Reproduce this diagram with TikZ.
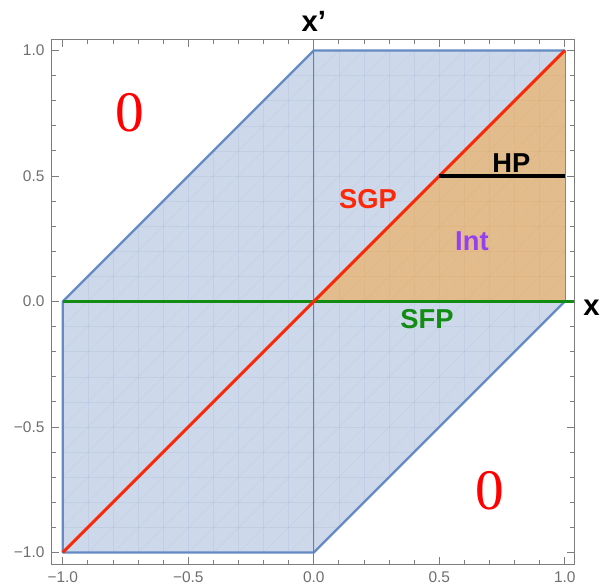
\documentclass[tikz,border=0pt]{standalone}
\usepackage{fontspec}
\setmainfont{Liberation Sans}
\newfontfamily\zeroserif{Liberation Serif}
\definecolor{regblue}{RGB}{205,217,234}
\definecolor{edgeblue}{RGB}{100,138,196}
\definecolor{intorange}{RGB}{226,188,140}
\definecolor{sgpred}{RGB}{252,40,8}
\definecolor{sfpgreen}{RGB}{18,140,18}
\definecolor{intpurple}{RGB}{150,64,240}
\definecolor{framegray}{RGB}{125,125,125}
\definecolor{ticklab}{RGB}{110,110,110}
\definecolor{meshcol}{RGB}{120,150,200}
\begin{document}
\begin{tikzpicture}[x=188.25pt,y=188.25pt,
  framestyle/.style={draw=framegray,line width=0.8pt},
  tickstyle/.style={draw=framegray,line width=0.7pt},
  ticklabel/.style={text=ticklab,font=\fontsize{11.6}{12}\selectfont,inner sep=0pt},
  bigzero/.style={text=red,font=\zeroserif\fontsize{43}{45}\selectfont,inner sep=0pt},
  curvelabel/.style={font=\bfseries\fontsize{20.5}{22}\selectfont,inner sep=0pt},
  axislabel/.style={font=\bfseries\fontsize{22}{24}\selectfont,inner sep=0pt,anchor=base}]
\useasboundingbox (-1.2502,-1.1375) rectangle (1.1602,1.2012);
% corner coordinates of the region
\coordinate (P1) at (-1,-1);
\coordinate (P2) at (-1,0);
\coordinate (P3) at (0,1);
\coordinate (P4) at (1,1);
\coordinate (P5) at (1,0);
\coordinate (P6) at (0,-1);
\coordinate (O) at (0,0);
\coordinate (H1) at (0.5,0.5);
\coordinate (H2) at (1,0.5);
\coordinate (GL) at (-1,0);
\coordinate (GR) at (1.038,0);
\coordinate (AB) at (0,-1.046);
\coordinate (AT) at (0,1.042);
% blue region
\fill[regblue] (P1) -- (P2) -- (P3) -- (P4) -- (P5) -- (P6) -- cycle;
\begin{scope}
\clip (P1) -- (P2) -- (P3) -- (P4) -- (P5) -- (P6) -- cycle;
\foreach \i in {-10,...,10}{
  \draw[meshcol,opacity=0.14,line width=0.4pt] (\i/10,-1.1) -- (\i/10,1.1);
  \draw[meshcol,opacity=0.14,line width=0.4pt] (-1.1,\i/10) -- (1.1,\i/10);
}
\foreach \i in {-20,...,20}{
  \draw[meshcol,opacity=0.11,line width=0.4pt] (\i/10-1.2,-1.2) -- (\i/10+1.2,1.2);
}
\end{scope}
\draw[edgeblue,line width=1.8pt,line join=round] (P1) -- (P2) -- (P3) -- (P4) -- (P5) -- (P6) -- cycle;
% orange interior
\fill[intorange] (O) -- (P4) -- (P5) -- cycle;
\begin{scope}
\clip (O) -- (P4) -- (P5) -- cycle;
\foreach \i in {0,...,10}{
  \draw[brown,opacity=0.08,line width=0.4pt] (\i/10,-0.1) -- (\i/10,1.1);
  \draw[brown,opacity=0.08,line width=0.4pt] (-0.1,\i/10) -- (1.1,\i/10);
  \draw[brown,opacity=0.07,line width=0.4pt] (\i/10,0) -- (\i/10+1,1);
}
\end{scope}
% frame
\draw[framestyle] (-1.044,-1.046) rectangle (1.038,1.042);
\foreach \i in {-10,...,10}{
  \draw[tickstyle] (\i/10,-1.046) -- ++(0,0.017);
  \draw[tickstyle] (\i/10,1.042) -- ++(0,-0.017);
  \draw[tickstyle] (-1.044,\i/10) -- ++(0.017,0);
  \draw[tickstyle] (1.038,\i/10) -- ++(-0.017,0);
}
\foreach \i in {-10,-5,0,5,10}{
  \draw[tickstyle] (\i/10,-1.046) -- ++(0,0.030);
  \draw[tickstyle] (\i/10,1.042) -- ++(0,-0.030);
  \draw[tickstyle] (-1.044,\i/10) -- ++(0.030,0);
  \draw[tickstyle] (1.038,\i/10) -- ++(-0.030,0);
}
% vertical axis
\draw[framegray,line width=0.9pt] (AB) -- (AT);
% tick labels
\node[ticklabel,anchor=east] (ly1) at (-1.072,1) {1.0};
\node[ticklabel,anchor=east] (ly2) at (-1.072,0.5) {0.5};
\node[ticklabel,anchor=east] (ly3) at (-1.072,0) {0.0};
\node[ticklabel,anchor=east] (ly4) at (-1.072,-0.5) {−0.5};
\node[ticklabel,anchor=east] (ly5) at (-1.072,-1) {−1.0};
\node[ticklabel] (lx1) at (-1,-1.1) {−1.0};
\node[ticklabel] (lx2) at (-0.5,-1.1) {−0.5};
\node[ticklabel] (lx3) at (0,-1.1) {0.0};
\node[ticklabel] (lx4) at (0.5,-1.1) {0.5};
\node[ticklabel] (lx5) at (1,-1.1) {1.0};
% curves
\draw[sfpgreen,line width=2.3pt] (GL) -- (GR);
\draw[sgpred,line width=2.3pt] (P1) -- (P4);
\draw[black,line width=2.4pt] (H1) -- (H2);
% labels
\node[bigzero] (z1) at (-0.733,0.753) {0};
\node[bigzero] (z2) at (0.701,-0.755) {0};
\node[curvelabel,text=sgpred] (sgp) at (0.216,0.407) {SGP};
\node[curvelabel,text=black] (hp) at (0.787,0.551) {HP};
\node[curvelabel,text=intpurple] (int) at (0.630,0.240) {Int};
\node[curvelabel,text=sfpgreen] (sfp) at (0.451,-0.072) {SFP};
\node[axislabel] (xp) at (0,1.075) {x’};
\node[axislabel] (xl) at (1.107,-0.054) {x};
\end{tikzpicture}
\end{document}
